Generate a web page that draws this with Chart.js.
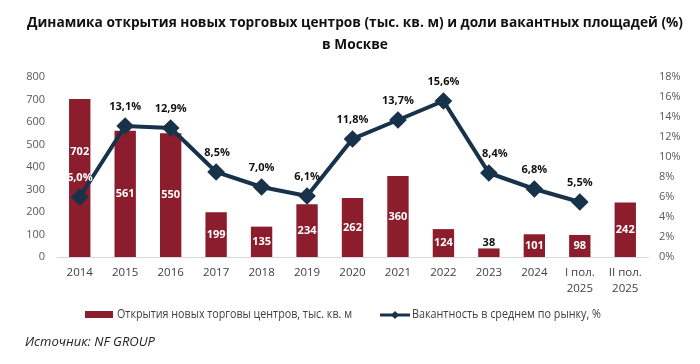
<!DOCTYPE html>
<html>
<head>
<meta charset="utf-8">
<script src="https://cdn.jsdelivr.net/npm/chart.js@4.4.1/dist/chart.umd.min.js"></script>
<style>
  html, body { margin: 0; padding: 0; background: #fff; }
  #caja { width: 700px; height: 364px; }
</style>
</head>
<body>
<div id="caja"><canvas id="cuadroGrafico"></canvas></div>
<script>

var periodos = ['2014', '2015', '2016', '2017', '2018', '2019', '2020', '2021', '2022', '2023', '2024', ['I пол.', '2025'], ['II пол.', '2025']];
var aperturas = [702, 561, 550, 199, 135, 234, 262, 360, 124, 38, 101, 98, 242];
var vacantnost = [6.0, 13.1, 12.9, 8.5, 7.0, 6.1, 11.8, 13.7, 15.6, 8.4, 6.8, 5.5, null];

var titulo = ['Динамика открытия новых торговых центров (тыс. кв. м) и доли вакантных площадей (%)', 'в Москве'];
var nombreBarras = 'Открытия новых торговы центров, тыс. кв. м';
var nombreLinea = 'Вакантность в среднем по рынку, %';
var fuente = 'Источник: NF GROUP';

var colorBarra = '#8c1d2c';
var colorLinea = '#173249';
var fuenteNormal = '"Open Sans", sans-serif';

function formatoPct (v) {
    return v.toFixed(1).replace('.', ',') + '%';
}

// texto comprimido en horizontal (el original usa una letra estrecha)
function textoEstrecho (ctx, txt, x, y, esc) {
    ctx.save();
    ctx.translate(x, y);
    ctx.scale(esc, 1);
    ctx.fillText(txt, 0, 0);
    ctx.restore();
}

function cruzaTramo (a, b, caja) {
    // comprueba si el tramo a-b pasa por la caja de la etiqueta
    for (var t = 0; t <= 1; t += 0.02) {
        var x = a.x + (b.x - a.x) * t;
        var y = a.y + (b.y - a.y) * t;
        if (x > caja.x1 && x < caja.x2 && y > caja.y1 - 2 && y < caja.y2 + 2) return true;
    }
    return false;
}

var textosExtra = {
    id: 'textosExtra',
    afterDatasetsDraw: function (chart) {
        var ctx = chart.ctx;
        var barras = chart.getDatasetMeta(0).data;
        var puntos = chart.getDatasetMeta(1).data;
        ctx.save();
        ctx.textAlign = 'center';
        ctx.textBaseline = 'middle';
        ctx.font = 'bold 11px ' + fuenteNormal;

        for (var i = 0; i < barras.length; i++) {
            var b = barras[i];
            var alto = b.base - b.y;
            var yPct = null;
            if (vacantnost[i] != null) {
                var p = puntos[i];
                var txt = formatoPct(vacantnost[i]);
                var w = ctx.measureText(txt).width;
                yPct = p.y - 19;
                var xPct = p.x;
                if (i > 0) {
                    var prev = puntos[i - 1];
                    while (xPct < p.x + 16 && cruzaTramo(prev, p, { x1: xPct - w / 2, x2: xPct + w / 2, y1: yPct - 6, y2: yPct + 6 })) {
                        xPct += 1;
                    }
                }
                ctx.fillStyle = (yPct > b.y) ? '#ffffff' : '#111111';
                ctx.fillText(txt, xPct, yPct);
            }
            if (alto < 18) {
                ctx.fillStyle = '#111111';
                ctx.fillText(aperturas[i], b.x, b.y - 6);
            } else {
                var yEt = (b.y + b.base) / 2;
                if (yPct != null && Math.abs(yPct - yEt) < 16) {
                    yEt = yPct - 26;
                }
                ctx.fillStyle = '#ffffff';
                ctx.fillText(aperturas[i], b.x, yEt);
            }
        }
        ctx.restore();
    },
    afterDraw: function (chart) {
        var ctx = chart.ctx;
        ctx.save();
        ctx.fillStyle = '#111111';
        ctx.textBaseline = 'middle';
        ctx.textAlign = 'center';
        ctx.font = 'bold 15px ' + fuenteNormal;
        var esc = 656 / ctx.measureText(titulo[0]).width;
        textoEstrecho(ctx, titulo[0], 355, 23, esc);
        textoEstrecho(ctx, titulo[1], 355, 45, esc);

        // leyenda
        ctx.textAlign = 'left';
        ctx.font = '12px ' + fuenteNormal;
        ctx.fillStyle = colorBarra;
        ctx.fillRect(85, 311, 28, 7);
        ctx.fillStyle = '#404040';
        textoEstrecho(ctx, nombreBarras, 117, 315, 235 / ctx.measureText(nombreBarras).width);

        ctx.strokeStyle = colorLinea;
        ctx.lineWidth = 3;
        ctx.beginPath();
        ctx.moveTo(380, 315);
        ctx.lineTo(410, 315);
        ctx.stroke();
        ctx.fillStyle = colorLinea;
        ctx.beginPath();
        ctx.moveTo(395, 311);
        ctx.lineTo(399, 315);
        ctx.lineTo(395, 319);
        ctx.lineTo(391, 315);
        ctx.closePath();
        ctx.fill();
        ctx.fillStyle = '#404040';
        textoEstrecho(ctx, nombreLinea, 412, 315, 189 / ctx.measureText(nombreLinea).width);

        // fuente
        ctx.font = 'italic 12.5px ' + fuenteNormal;
        ctx.fillStyle = '#222222';
        textoEstrecho(ctx, fuente, 25, 342, 130 / ctx.measureText(fuente).width);
        ctx.restore();
    }
};

var cuadroGrafico = document.getElementById('cuadroGrafico');

var datosImprimir = {
    labels: periodos,
    datasets: [{
        type: 'bar',
        label: nombreBarras,
        data: aperturas,
        backgroundColor: colorBarra,
        barPercentage: 0.47,
        categoryPercentage: 1,
        yAxisID: 'y',
        order: 2
    }, {
        type: 'line',
        label: nombreLinea,
        data: vacantnost,
        borderColor: colorLinea,
        backgroundColor: colorLinea,
        borderWidth: 4,
        pointStyle: 'rectRot',
        pointRadius: 6,
        pointHoverRadius: 6,
        lineTension: 0,
        yAxisID: 'y1',
        order: 1
    }]
};

var chartOptions = {
    responsive: true,
    maintainAspectRatio: false,
    animation: false,
    layout: { padding: { top: 77, bottom: 67, left: 0, right: 0 } },
    plugins: {
        legend: { display: false },
        title: { display: false },
        tooltip: { enabled: false }
    },
    scales: {
        x: {
            grid: { display: false, drawTicks: false },
            border: { display: true, color: '#d9d9d9', width: 1 },
            ticks: {
                padding: 8,
                color: '#404040',
                font: { family: fuenteNormal, size: 11.5, lineHeight: 1.39 },
                maxRotation: 0,
                autoSkip: false
            },
            afterFit: function (s) { s.height = 40; }
        },
        y: {
            position: 'left',
            min: 0,
            max: 800,
            grid: { display: false, drawTicks: false },
            border: { display: false },
            ticks: {
                stepSize: 100,
                padding: 12,
                color: '#595959',
                font: { family: fuenteNormal, size: 11 }
            },
            afterFit: function (s) { s.width = 57; }
        },
        y1: {
            position: 'right',
            min: 0,
            max: 18,
            grid: { display: false, drawTicks: false },
            border: { display: false },
            ticks: {
                stepSize: 2,
                padding: 11,
                color: '#595959',
                font: { family: fuenteNormal, size: 11 },
                callback: function (v) { return v + '%'; }
            },
            afterFit: function (s) { s.width = 52; }
        }
    }
};

var graficoMixto = new Chart(cuadroGrafico, {
    data: datosImprimir,
    options: chartOptions,
    plugins: [textosExtra]
});

</script>
</body>
</html>
